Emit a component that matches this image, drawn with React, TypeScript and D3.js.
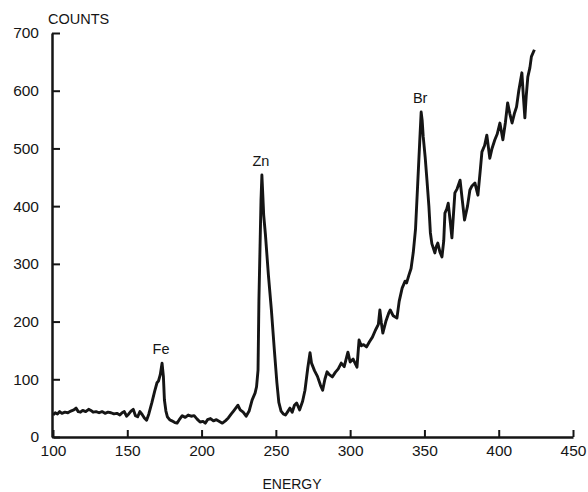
import { useRef, useEffect } from 'react';
import * as d3 from 'd3';

// spectrum: energy channel / counts
const ENERGY = [
  100, 101.5, 103, 104.5, 106, 108, 110, 112, 114, 115.5, 117, 118.5, 120, 122, 124, 125.5, 127, 129, 131, 133,
  135, 137, 139, 141, 143, 145, 146.5, 148, 149.5, 151, 152.5, 154, 155.5, 157, 158.5, 160, 161.5, 163, 164.5, 166.5,
  168.5, 170, 171, 172.2, 173.4, 174.3, 175, 176, 177, 178.5, 180, 182, 183.5, 185, 187, 189, 191, 193, 195, 197,
  199, 201, 202.5, 204, 206, 208, 210, 212, 214, 216, 218, 220, 221.5, 223, 224.5, 226, 228, 230, 232, 234,
  236, 237, 238, 238.6, 240, 240.6, 241.2, 241.8, 243, 245, 247, 249, 250.7, 252, 253.5, 255, 256.5, 258, 259.5, 261,
  262.5, 264, 266, 268, 269.6, 271.5, 273, 274, 276, 278, 280, 281.5, 283, 284.5, 286, 288, 290, 292, 294, 296,
  298.5, 300, 302, 304.6, 306, 307.5, 309, 311, 313, 315, 317, 319, 320, 321, 322, 324, 326, 327, 329, 331.5,
  333, 335, 337, 338, 339.5, 341, 342.5, 344, 345.5, 346.8, 347.8, 348.5, 349.2, 350.5, 351.7, 353, 354, 355, 357, 358,
  359, 360.5, 361.8, 363, 363.8, 365, 366, 367.5, 368.5, 370.5, 372, 374, 375.5, 377, 379, 380.6, 382, 384, 386, 387.5,
  388.7, 390.5, 392, 394, 395.5, 397.4, 399, 400.8, 402.8, 404.5, 406, 407.5, 409, 410.5, 412, 413.5, 415.6, 416.6, 417.6, 418.5,
  419.6, 421, 422, 424,
];

const COUNTS = [
  38, 42, 40, 44, 41, 43, 42, 45, 47, 50, 44, 43, 46, 44, 48, 46, 43, 44, 42, 44,
  41, 43, 42, 40, 41, 38, 42, 44, 36, 40, 45, 48, 37, 35, 44, 39, 33, 29, 40, 59,
  80, 94, 97, 108, 128, 105, 64, 45, 35, 30, 28, 25, 24, 30, 37, 34, 38, 36, 37, 31,
  26, 27, 24, 30, 32, 28, 30, 27, 24, 28, 33, 40, 45, 50, 55, 47, 43, 36, 45, 64,
  76, 87, 116, 237, 410, 454, 420, 385, 350, 280, 220, 150, 94, 60, 45, 40, 38, 44, 50, 43,
  55, 59, 47, 62, 81, 120, 146, 128, 115, 105, 90, 81, 100, 113, 108, 104, 112, 118, 128, 122,
  147, 130, 135, 121, 168, 158, 160, 156, 165, 173, 185, 195, 220, 198, 180, 200, 215, 220, 210, 206,
  235, 258, 270, 267, 280, 292, 320, 360, 440, 510, 563, 548, 520, 485, 445, 400, 354, 335, 319, 330,
  336, 320, 312, 340, 388, 395, 405, 370, 345, 423, 430, 445, 410, 376, 400, 428, 435, 440, 419, 460,
  494, 505, 523, 483, 500, 515, 525, 544, 515, 545, 579, 560, 544, 560, 572, 600, 631, 590, 553, 590,
  624, 640, 659, 671,
];

const X_TICKS = [100, 150, 200, 250, 300, 350, 400, 450];
const Y_TICKS = [0, 100, 200, 300, 400, 500, 600, 700];

const PEAKS = ['Fe', 'Zn', 'Br'];
const PEAK_ENERGY = [173.4, 240.6, 347.8];
const PEAK_COUNTS = [128, 454, 563];

const FONT = '"Liberation Sans", Arial, Helvetica, sans-serif';

export default function App() {
  const svgRef = useRef<SVGSVGElement>(null);
  const width = 588;
  const height = 492;

  useEffect(() => {
    document.body.style.margin = '0';
    const svg = d3.select(svgRef.current);
    svg.selectAll('*').remove();
    svg.attr('width', width).attr('height', height);

    const x = d3.scaleLinear().domain([100, 450]).range([53, 573]);
    const y = d3.scaleLinear().domain([0, 700]).range([437, 33]);

    // spectrum trace
    const pts: [number, number][] = ENERGY.map((e, i) => [e, COUNTS[i]]);
    const line = d3
      .line<[number, number]>()
      .x((d) => x(d[0]))
      .y((d) => y(d[1]));

    svg
      .append('path')
      .datum(pts)
      .attr('d', line)
      .attr('fill', 'none')
      .attr('stroke', '#151515')
      .attr('stroke-width', 2.9)
      .attr('stroke-linejoin', 'round');

    // x axis, ticks pointing up into the plot
    svg
      .append('g')
      .attr('transform', `translate(0,${y(0)})`)
      .call(
        d3.axisBottom(x)
          .tickValues(X_TICKS)
          .tickSize(-7)
          .tickSizeOuter(0)
          .tickPadding(8)
          .tickFormat((d) => String(d))
      )
      .call((g) => g.select('.domain').attr('stroke', '#151515').attr('stroke-width', 2.5))
      .call((g) => g.selectAll('.tick line').attr('stroke', '#151515').attr('stroke-width', 2))
      .call((g) =>
        g.selectAll('text').attr('fill', '#151515').style('font-size', '15.5px').style('font-family', FONT)
      );

    // y axis, ticks pointing right
    svg
      .append('g')
      .attr('transform', `translate(${x(100) - 1},0)`)
      .call(
        d3.axisLeft(y)
          .tickValues(Y_TICKS)
          .tickSize(-8)
          .tickSizeOuter(0)
          .tickPadding(13)
          .tickFormat((d) => String(d))
      )
      .call((g) => g.select('.domain').attr('stroke', '#151515').attr('stroke-width', 2.5))
      .call((g) => g.selectAll('.tick line').attr('stroke', '#151515').attr('stroke-width', 2))
      .call((g) =>
        g.selectAll('text').attr('fill', '#151515').style('font-size', '15.5px').style('font-family', FONT)
      );

    // axis titles
    svg
      .append('text')
      .attr('x', 48)
      .attr('y', 24)
      .attr('fill', '#151515')
      .style('font-family', FONT)
      .style('font-size', '14.5px')
      .text('COUNTS');

    svg
      .append('text')
      .attr('x', 292)
      .attr('y', 489)
      .attr('text-anchor', 'middle')
      .attr('fill', '#151515')
      .style('font-family', FONT)
      .style('font-size', '14px')
      .text('ENERGY');

    // element labels above peaks
    PEAKS.forEach((name, i) => {
      svg
        .append('text')
        .attr('x', x(PEAK_ENERGY[i]) - 1)
        .attr('y', y(PEAK_COUNTS[i]) - 9)
        .attr('text-anchor', 'middle')
        .attr('fill', '#151515')
        .style('font-family', FONT)
        .style('font-size', '14.5px')
        .text(name);
    });
  }, []);

  return <svg ref={svgRef} style={{ display: 'block' }} />;
}
